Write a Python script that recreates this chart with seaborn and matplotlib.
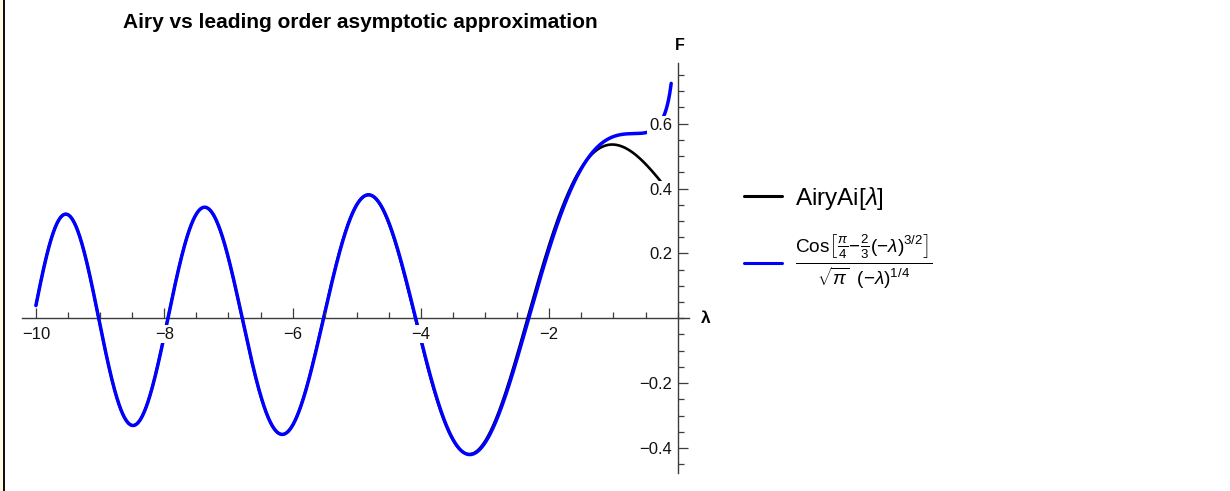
import numpy as np
import pandas as pd
import seaborn as sns
import matplotlib.pyplot as plt
from matplotlib.patches import Rectangle

# ---- chart parameters -------------------------------------------------------
LAMBDA_RANGE = [-10.0, -0.1]          # plotted interval of lambda
N_SAMPLES = 3000
SERIES_NAMES = ["AiryAi", "Asymptotic"]
SERIES_COLORS = ["#000000", "#0000ff"]
SERIES_WIDTHS = [1.9, 2.5]
X_MAJOR_TICKS = [-10, -8, -6, -4, -2]
X_TICK_LABELS = ["\u221210", "\u22128", "\u22126", "\u22124", "\u22122"]
Y_MAJOR_TICKS = [-0.4, -0.2, 0.2, 0.4, 0.6]
Y_TICK_LABELS = ["\u22120.4", "\u22120.2", "0.2", "0.4", "0.6"]
X_LIMITS = [-10.22, 0.17]
Y_LIMITS = [-0.477, 0.787]
TITLE = "Airy vs leading order asymptotic approximation"
LEGEND_LABELS = [
    r"AiryAi[$\lambda$]",
    r"$\frac{\mathrm{Cos}\left[\frac{\pi}{4}\!-\!\frac{2}{3}(-\lambda)^{3/2}\right]}{\sqrt{\pi}\;\;(-\lambda)^{1/4}}$",
]

# Airy Ai(0) and -Ai'(0), used as coefficients of the Maclaurin series
AI0 = 0.355028053887817239
AIP0 = 0.258819403792806798


def airy_ai(x):
    x = np.asarray(x, dtype=float)
    x3 = x ** 3
    tf = np.ones_like(x)
    tg = x.copy()
    f = tf.copy()
    g = tg.copy()
    for k in range(1, 90):
        tf = tf * x3 / ((3 * k - 1) * (3 * k))
        tg = tg * x3 / ((3 * k) * (3 * k + 1))
        f += tf
        g += tg
    return AI0 * f - AIP0 * g


def leading_order(x):
    m = -np.asarray(x, dtype=float)
    return np.cos(np.pi / 4 - 2.0 / 3.0 * m ** 1.5) / (np.sqrt(np.pi) * m ** 0.25)


lam = np.linspace(LAMBDA_RANGE[0], LAMBDA_RANGE[1], N_SAMPLES)
df = pd.concat([
    pd.DataFrame({"lam": lam, "F": airy_ai(lam), "curve": SERIES_NAMES[0]}),
    pd.DataFrame({"lam": lam, "F": leading_order(lam), "curve": SERIES_NAMES[1]}),
])

# ---- styling ----------------------------------------------------------------
sns.set_style("white")
plt.rcParams["font.family"] = ["Liberation Sans", "DejaVu Sans"]
plt.rcParams["mathtext.fontset"] = "custom"
plt.rcParams["mathtext.rm"] = "Liberation Sans"
plt.rcParams["mathtext.it"] = "Liberation Sans:italic"
plt.rcParams["mathtext.bf"] = "Liberation Sans:bold"
plt.rcParams["text.color"] = "black"

W, H = 1230, 491
fig = plt.figure(figsize=(W / 100, H / 100), dpi=100)
fig.patch.set_facecolor("white")

# axes box in pixels: left 21.8, right 688.5, top 63, bottom 473
ax = fig.add_axes([21.8 / W, (H - 473) / H, (688.5 - 21.8) / W, (473 - 63) / H])
ax.set_facecolor("none")

for name, col, lw in zip(SERIES_NAMES, SERIES_COLORS, SERIES_WIDTHS):
    sns.lineplot(data=df[df["curve"] == name], x="lam", y="F", color=col,
                 linewidth=lw, ax=ax, sort=False, estimator=None)
handles = ax.get_lines()

ax.set_xlim(*X_LIMITS)
ax.set_ylim(*Y_LIMITS)
ax.set_xlabel("")
ax.set_ylabel("")
ax.set_axisbelow(False)   # tick labels (white boxes) drawn over the curves

# axes crossing at the origin
for side in ["top", "right"]:
    ax.spines[side].set_visible(False)
ax.spines["left"].set_position(("data", 0))
ax.spines["bottom"].set_position(("data", 0))
for side in ["left", "bottom"]:
    ax.spines[side].set_color("#3c3c3c")
    ax.spines[side].set_linewidth(1.0)
    ax.spines[side].set_zorder(1.5)

ax.set_xticks(X_MAJOR_TICKS)
ax.set_xticklabels(X_TICK_LABELS)
ax.set_xticks(np.arange(-10, 0.01, 0.5), minor=True)
ax.set_yticks(Y_MAJOR_TICKS)
ax.set_yticklabels(Y_TICK_LABELS)
ax.set_yticks(np.arange(-0.45, 0.76, 0.05), minor=True)

ax.tick_params(axis="both", which="both", direction="in", color="#3c3c3c",
               width=0.9, labelsize=12, labelcolor="#111111",
               bottom=True, left=True, top=False, right=False)
ax.tick_params(axis="both", which="major", length=7)
ax.tick_params(axis="both", which="minor", length=4.2)
ax.tick_params(axis="x", which="major", pad=6)
ax.tick_params(axis="y", which="major", pad=4)
for lab in ax.get_xticklabels() + ax.get_yticklabels():
    lab.set_bbox(dict(facecolor="white", edgecolor="none", pad=1.2))

# axis names at the ends of the axes
ax.text(0.44, 0.0, "\u03bb", fontsize=12.5, fontweight="bold",
        ha="center", va="center", clip_on=False)
fig.text(680 / W, 1 - 45 / H, "F", fontsize=11.5, fontweight="bold",
         ha="center", va="center")

fig.text(360 / W, 1 - 22 / H, TITLE, fontsize=15, fontweight="bold",
         ha="center", va="center")

leg = ax.legend(handles, LEGEND_LABELS, loc="center left",
                bbox_to_anchor=(744 / W, 1 - 238 / H), bbox_transform=fig.transFigure,
                frameon=False, fontsize=17.5, handlelength=1.55, handletextpad=0.55,
                labelspacing=0.84, borderpad=0, borderaxespad=0)
leg.get_texts()[1].set_fontsize(19.5)
for h in leg.legend_handles:
    h.set_linewidth(2.2)

# thin frame strip on the left edge
fig.add_artist(Rectangle((0, 0), 3 / W, 1, transform=fig.transFigure,
                         facecolor="#fffbe0", edgecolor="none"))
fig.add_artist(Rectangle((3 / W, 0), 2 / W, 1, transform=fig.transFigure,
                         facecolor="#111111", edgecolor="none"))

fig.savefig("out.png", dpi=100)
